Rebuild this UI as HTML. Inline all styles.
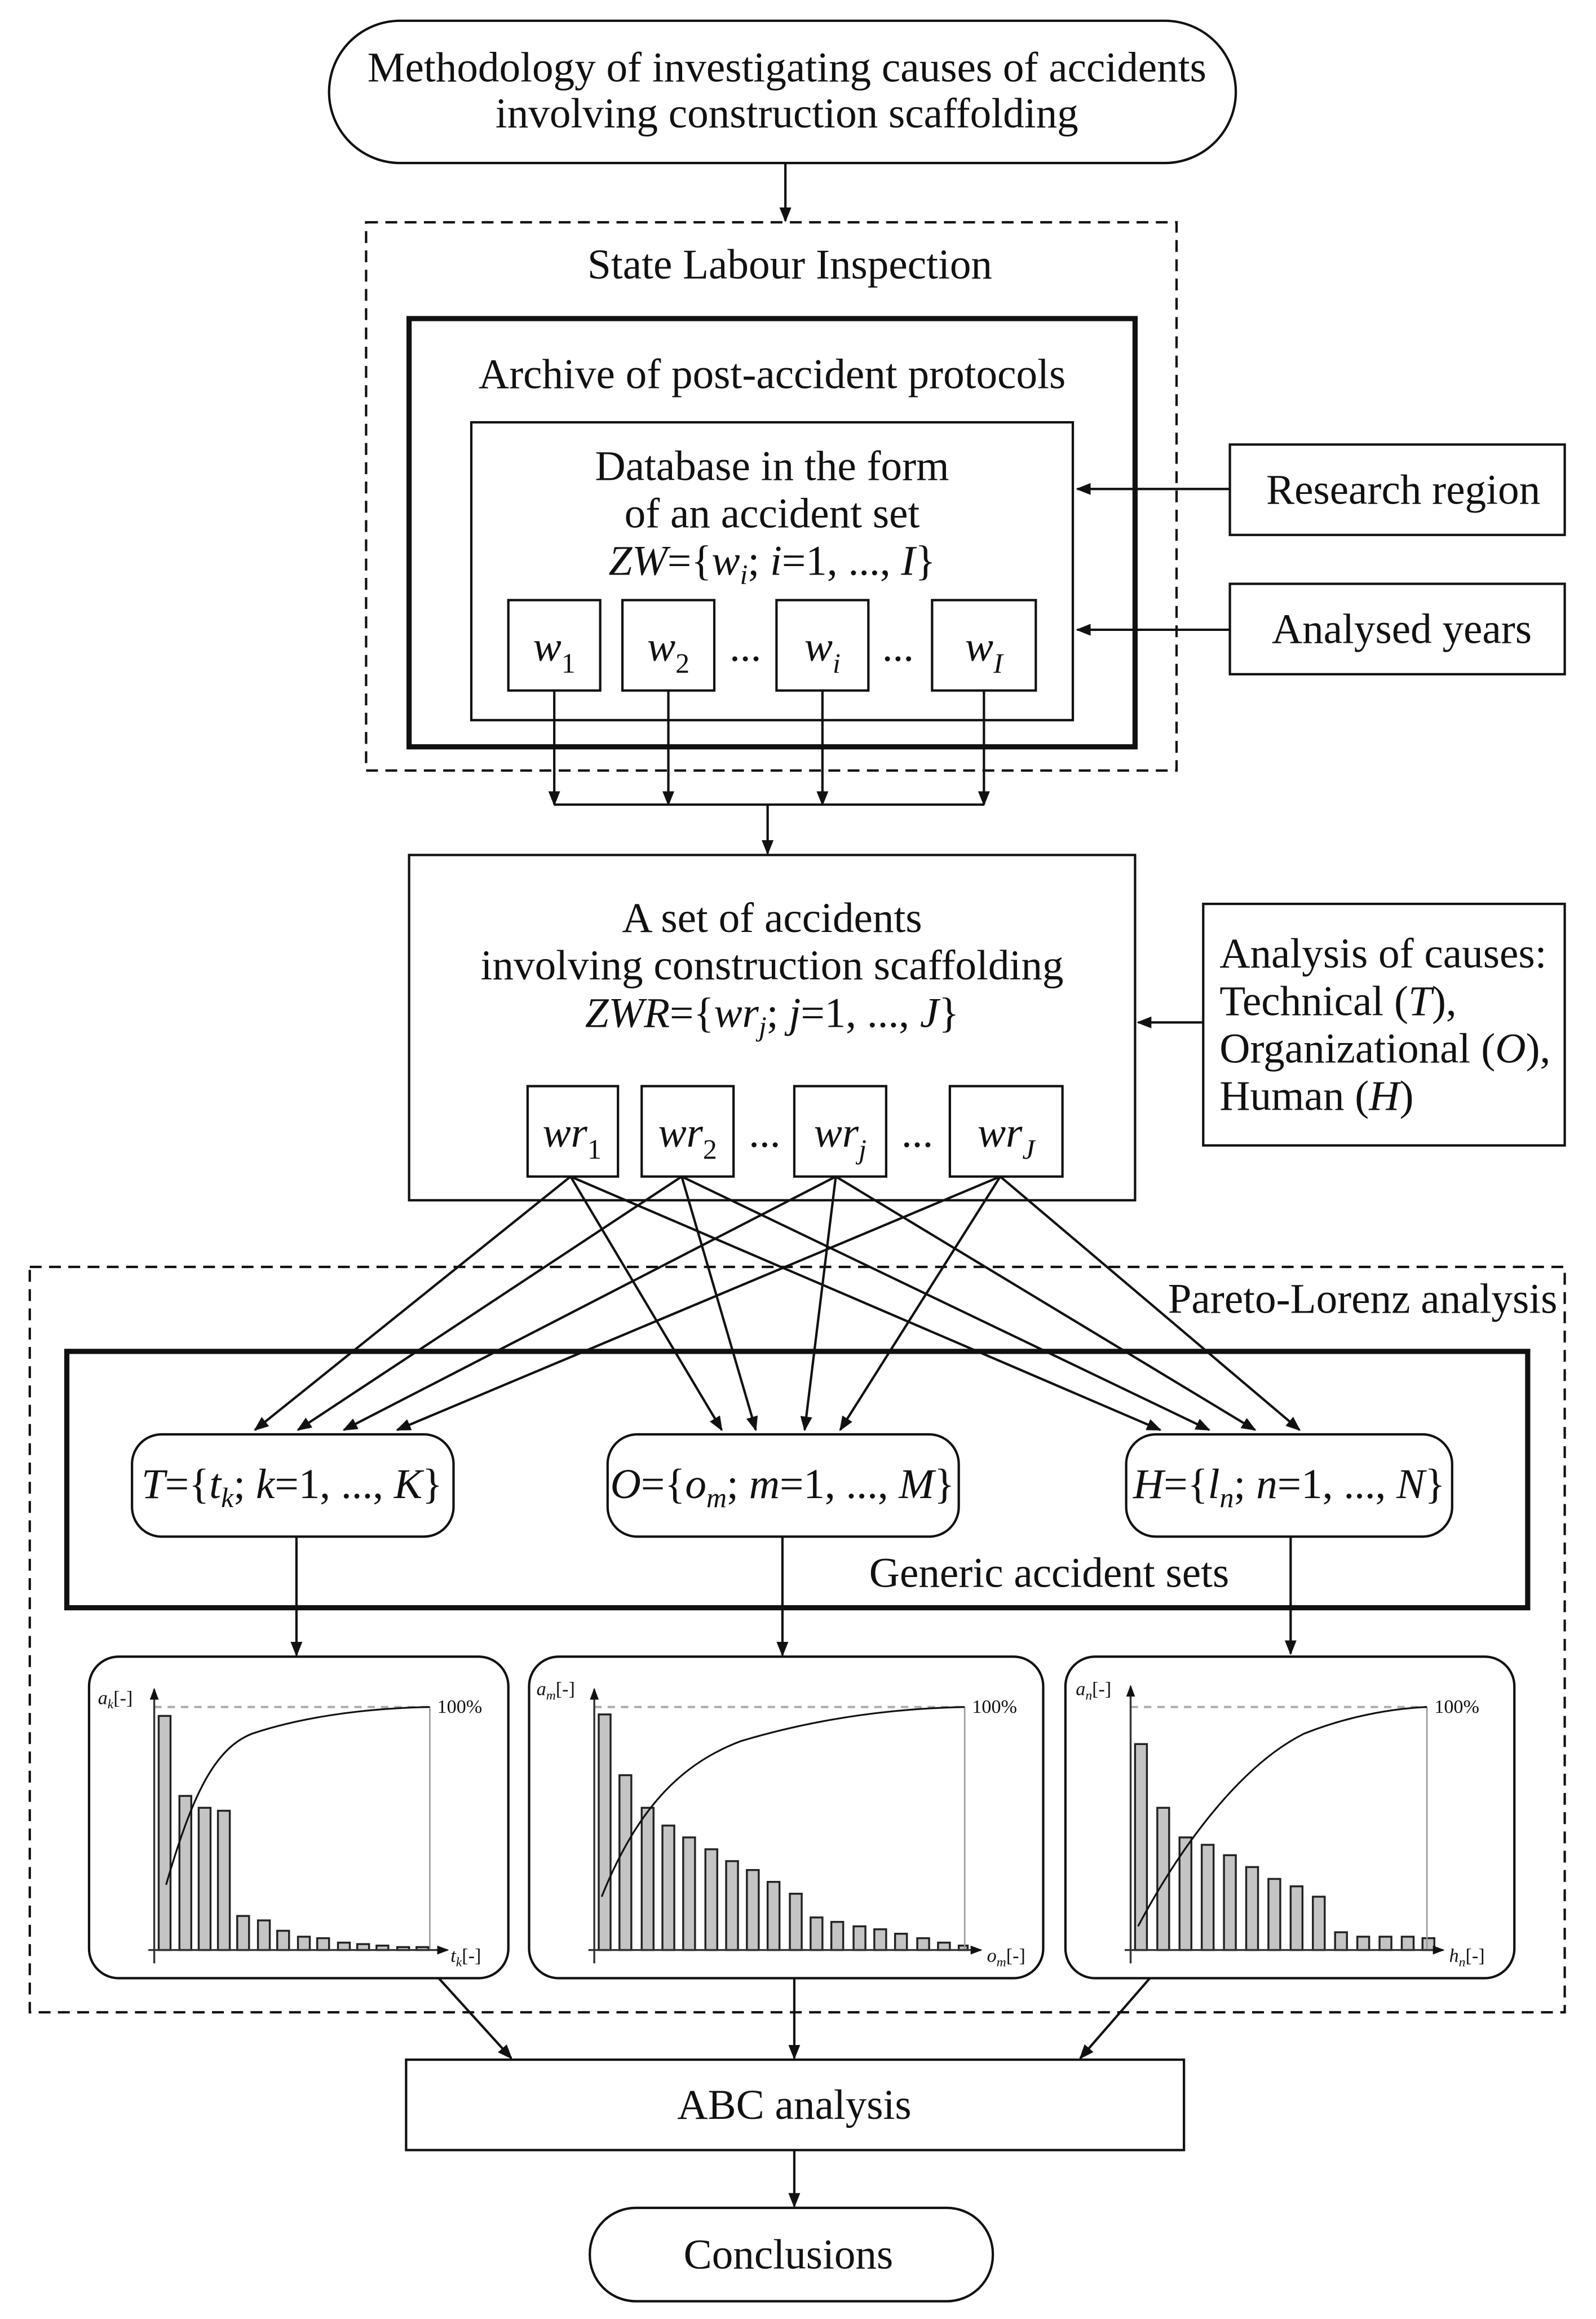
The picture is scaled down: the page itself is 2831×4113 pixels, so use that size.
<!DOCTYPE html>
<html><head><meta charset="utf-8"><style>
html,body{margin:0;padding:0;background:#fff;}
svg{display:block;}
text{font-family:"Liberation Serif",serif;fill:#111;}
</style></head><body>
<svg width="2831" height="4113" viewBox="0 0 1077 1565" xmlns="http://www.w3.org/2000/svg">
<defs>
<marker id="ar" markerWidth="10" markerHeight="8" refX="9" refY="4" orient="auto" markerUnits="userSpaceOnUse">
<path d="M0,0 L10,4 L0,8 Z" fill="#111"/></marker>
<marker id="as" markerWidth="8" markerHeight="6" refX="7" refY="3" orient="auto" markerUnits="userSpaceOnUse">
<path d="M0,0 L8,3 L0,6 Z" fill="#111"/></marker>
</defs>
<g fill="none" stroke="#111" stroke-width="1.6">
<rect x="222" y="14" width="612" height="96" rx="48"/>
<rect x="247" y="150" width="547" height="370" stroke-dasharray="8,5"/>
<rect x="276" y="215" width="490" height="289" stroke-width="3.5"/>
<rect x="318" y="285" width="406" height="201"/>
<rect x="343" y="405" width="62" height="61"/>
<rect x="420" y="405" width="62" height="61"/>
<rect x="524" y="405" width="62" height="61"/>
<rect x="629" y="405" width="70" height="61"/>
<rect x="830" y="300" width="226" height="61"/>
<rect x="830" y="394" width="226" height="61"/>
<rect x="276" y="577" width="490" height="233"/>
<rect x="356" y="733" width="61" height="61"/>
<rect x="433" y="733" width="62" height="61"/>
<rect x="536" y="733" width="62" height="61"/>
<rect x="641" y="733" width="76" height="61"/>
<rect x="812" y="610" width="244" height="163"/>
<rect x="20" y="855" width="1036" height="503" stroke-dasharray="8,5"/>
<rect x="45" y="912" width="986" height="173" stroke-width="3.5"/>
<rect x="89" y="968" width="217" height="69" rx="20"/>
<rect x="410" y="968" width="237" height="69" rx="20"/>
<rect x="760" y="968" width="220" height="69" rx="20"/>
<rect x="60" y="1118" width="283" height="217" rx="20"/>
<rect x="357" y="1118" width="347" height="217" rx="20"/>
<rect x="719" y="1118" width="303" height="217" rx="20"/>
<rect x="274" y="1390" width="525" height="61"/>
<rect x="398" y="1490" width="272" height="63" rx="31"/>
</g>
<g stroke="#111" stroke-width="1.6" fill="none" marker-end="url(#ar)">
<line x1="530" y1="110" x2="530" y2="149"/>
<line x1="830" y1="330" x2="727" y2="330"/>
<line x1="830" y1="425" x2="727" y2="425"/>
<line x1="374" y1="466" x2="374" y2="543"/>
<line x1="451" y1="466" x2="451" y2="543"/>
<line x1="555" y1="466" x2="555" y2="543"/>
<line x1="664" y1="466" x2="664" y2="543"/>
<line x1="518" y1="543" x2="518" y2="576"/>
<line x1="812" y1="690" x2="768" y2="690"/>
<line x1="385" y1="794" x2="172" y2="965"/>
<line x1="460" y1="794" x2="201" y2="965"/>
<line x1="564" y1="794" x2="232" y2="965"/>
<line x1="675" y1="794" x2="268" y2="965"/>
<line x1="385" y1="794" x2="487" y2="965"/>
<line x1="460" y1="794" x2="510" y2="965"/>
<line x1="564" y1="794" x2="543" y2="965"/>
<line x1="675" y1="794" x2="567" y2="965"/>
<line x1="385" y1="794" x2="783" y2="965"/>
<line x1="460" y1="794" x2="816" y2="965"/>
<line x1="564" y1="794" x2="847" y2="965"/>
<line x1="675" y1="794" x2="877" y2="965"/>
<line x1="200" y1="1037" x2="200" y2="1117"/>
<line x1="528" y1="1037" x2="528" y2="1117"/>
<line x1="871" y1="1037" x2="871" y2="1116"/>
<line x1="296" y1="1335" x2="345" y2="1389"/>
<line x1="536" y1="1335" x2="536" y2="1389"/>
<line x1="776" y1="1335" x2="729" y2="1389"/>
<line x1="536" y1="1451" x2="536" y2="1489"/>
</g>
<line x1="374" y1="543" x2="664" y2="543" stroke="#111" stroke-width="1.6"/>
<g font-size="28.6" text-anchor="middle">
<text x="531" y="55">Methodology of investigating causes of accidents</text>
<text x="531" y="86">involving construction scaffolding</text>
<text x="533" y="188">State Labour Inspection</text>
<text x="521" y="262">Archive of post-accident protocols</text>
<text x="521" y="324">Database in the form</text>
<text x="521" y="356">of an accident set</text>
<text x="521" y="388" font-style="italic">ZW<tspan font-style="normal">={</tspan>w<tspan font-size="19" dy="6">i</tspan><tspan dy="-6" font-style="normal">; </tspan>i<tspan font-style="normal">=1, ..., </tspan>I<tspan font-style="normal">}</tspan></text>
<text x="374" y="446" font-style="italic">w<tspan font-size="19" dy="8" font-style="normal">1</tspan></text>
<text x="451" y="446" font-style="italic">w<tspan font-size="19" dy="8" font-style="normal">2</tspan></text>
<text x="555" y="446" font-style="italic">w<tspan font-size="19" dy="8">i</tspan></text>
<text x="664" y="446" font-style="italic">w<tspan font-size="19" dy="8">I</tspan></text>
<text x="503" y="446">...</text>
<text x="606" y="446">...</text>
<text x="947" y="340">Research region</text>
<text x="946" y="434">Analysed years</text>
<text x="521" y="629">A set of accidents</text>
<text x="521" y="661">involving construction scaffolding</text>
<text x="521" y="693" font-style="italic">ZWR<tspan font-style="normal">={</tspan>wr<tspan font-size="19" dy="6">j</tspan><tspan dy="-6" font-style="normal">; </tspan>j<tspan font-style="normal">=1, ..., </tspan>J<tspan font-style="normal">}</tspan></text>
<text x="386" y="774" font-style="italic">wr<tspan font-size="19" dy="8" font-style="normal">1</tspan></text>
<text x="464" y="774" font-style="italic">wr<tspan font-size="19" dy="8" font-style="normal">2</tspan></text>
<text x="567" y="774" font-style="italic">wr<tspan font-size="19" dy="8">j</tspan></text>
<text x="679" y="774" font-style="italic">wr<tspan font-size="19" dy="8">J</tspan></text>
<text x="516" y="774">...</text>
<text x="619" y="774">...</text>
<text x="197" y="1011"><tspan font-style="italic">T</tspan>={<tspan font-style="italic">t</tspan><tspan font-size="19" dy="6" font-style="italic">k</tspan><tspan dy="-6">; </tspan><tspan font-style="italic">k</tspan>=1, ..., <tspan font-style="italic">K</tspan>}</text>
<text x="528" y="1011"><tspan font-style="italic">O</tspan>={<tspan font-style="italic">o</tspan><tspan font-size="19" dy="6" font-style="italic">m</tspan><tspan dy="-6">; </tspan><tspan font-style="italic">m</tspan>=1, ..., <tspan font-style="italic">M</tspan>}</text>
<text x="870" y="1011"><tspan font-style="italic">H</tspan>={<tspan font-style="italic">l</tspan><tspan font-size="19" dy="6" font-style="italic">n</tspan><tspan dy="-6">; </tspan><tspan font-style="italic">n</tspan>=1, ..., <tspan font-style="italic">N</tspan>}</text>
<text x="708" y="1071">Generic accident sets</text>
<text x="536" y="1430">ABC analysis</text>
<text x="532" y="1531">Conclusions</text>
</g>
<g font-size="28.6">
<text x="823" y="653">Analysis of causes:</text>
<text x="823" y="685">Technical (<tspan font-style="italic">T</tspan>),</text>
<text x="823" y="717">Organizational (<tspan font-style="italic">O</tspan>),</text>
<text x="823" y="749">Human (<tspan font-style="italic">H</tspan>)</text>
<text x="1051" y="886" text-anchor="end">Pareto-Lorenz analysis</text>
</g>
<!-- chart 1 -->
<g stroke="#222" stroke-width="1.3" fill="#c4c4c4">
<rect x="107" y="1158" width="8" height="158"/><rect x="121" y="1212" width="8" height="104"/><rect x="134" y="1220" width="8" height="96"/><rect x="147" y="1222" width="8" height="94"/><rect x="160" y="1293" width="8" height="23"/><rect x="174" y="1296" width="8" height="20"/><rect x="187" y="1303" width="8" height="13"/><rect x="201" y="1307" width="8" height="9"/><rect x="214" y="1308" width="8" height="8"/><rect x="228" y="1311" width="8" height="5"/><rect x="241" y="1312" width="8" height="4"/><rect x="254" y="1313" width="8" height="3"/><rect x="268" y="1314" width="8" height="2"/><rect x="281" y="1314" width="8" height="2"/>
</g>
<g fill="none">
<line x1="104" y1="1152" x2="290" y2="1152" stroke="#aaa" stroke-width="1.5" stroke-dasharray="5,4"/>
<line x1="290" y1="1152" x2="290" y2="1316" stroke="#999" stroke-width="1"/>
<line x1="104" y1="1325" x2="104" y2="1140" stroke="#333" stroke-width="1.3" marker-end="url(#as)"/>
<line x1="100" y1="1316" x2="302" y2="1316" stroke="#333" stroke-width="1.3" marker-end="url(#as)"/>
<path d="M112,1272 C130,1210 145,1180 170,1170 C200,1160 240,1153 290,1152" stroke="#111" stroke-width="1.2"/>
</g>
<g font-size="13">
<text x="66" y="1150" font-style="italic">a<tspan font-size="9" dy="3">k</tspan><tspan dy="-3" font-style="normal">[-]</tspan></text>
<text x="295" y="1156">100%</text>
<text x="304" y="1324" font-style="italic">t<tspan font-size="9" dy="3">k</tspan><tspan dy="-3" font-style="normal">[-]</tspan></text>
</g>
<!-- chart 2 -->
<g stroke="#222" stroke-width="1.3" fill="#c4c4c4">
<rect x="404" y="1157" width="8" height="159"/><rect x="418" y="1198" width="8" height="118"/><rect x="433" y="1220" width="8" height="96"/><rect x="447" y="1232" width="8" height="84"/><rect x="461" y="1240" width="8" height="76"/><rect x="476" y="1248" width="8" height="68"/><rect x="490" y="1256" width="8" height="60"/><rect x="504" y="1262" width="8" height="54"/><rect x="518" y="1270" width="8" height="46"/><rect x="533" y="1278" width="8" height="38"/><rect x="547" y="1294" width="8" height="22"/><rect x="561" y="1297" width="8" height="19"/><rect x="576" y="1300" width="8" height="16"/><rect x="590" y="1302" width="8" height="14"/><rect x="604" y="1305" width="8" height="11"/><rect x="619" y="1308" width="8" height="8"/><rect x="633" y="1311" width="8" height="5"/><rect x="647" y="1313" width="6" height="3"/>
</g>
<g fill="none">
<line x1="401" y1="1152" x2="651" y2="1152" stroke="#aaa" stroke-width="1.5" stroke-dasharray="5,4"/>
<line x1="651" y1="1152" x2="651" y2="1316" stroke="#999" stroke-width="1"/>
<line x1="401" y1="1325" x2="401" y2="1140" stroke="#333" stroke-width="1.3" marker-end="url(#as)"/>
<line x1="397" y1="1316" x2="662" y2="1316" stroke="#333" stroke-width="1.3" marker-end="url(#as)"/>
<path d="M406,1280 C430,1220 460,1190 500,1175 C550,1160 600,1153 651,1152" stroke="#111" stroke-width="1.2"/>
</g>
<g font-size="13">
<text x="362" y="1144" font-style="italic">a<tspan font-size="9" dy="3">m</tspan><tspan dy="-3" font-style="normal">[-]</tspan></text>
<text x="656" y="1156">100%</text>
<text x="666" y="1324" font-style="italic">o<tspan font-size="9" dy="3">m</tspan><tspan dy="-3" font-style="normal">[-]</tspan></text>
</g>
<!-- chart 3 -->
<g stroke="#222" stroke-width="1.3" fill="#c4c4c4">
<rect x="766" y="1177" width="8" height="139"/><rect x="781" y="1220" width="8" height="96"/><rect x="796" y="1240" width="8" height="76"/><rect x="811" y="1245" width="8" height="71"/><rect x="826" y="1252" width="8" height="64"/><rect x="841" y="1260" width="8" height="56"/><rect x="856" y="1268" width="8" height="48"/><rect x="871" y="1273" width="8" height="43"/><rect x="886" y="1280" width="8" height="36"/><rect x="901" y="1304" width="8" height="12"/><rect x="916" y="1307" width="8" height="9"/><rect x="931" y="1307" width="8" height="9"/><rect x="946" y="1307" width="8" height="9"/><rect x="960" y="1308" width="8" height="8"/>
</g>
<g fill="none">
<line x1="763" y1="1152" x2="963" y2="1152" stroke="#aaa" stroke-width="1.5" stroke-dasharray="5,4"/>
<line x1="963" y1="1152" x2="963" y2="1316" stroke="#999" stroke-width="1"/>
<line x1="763" y1="1325" x2="763" y2="1138" stroke="#333" stroke-width="1.3" marker-end="url(#as)"/>
<line x1="759" y1="1316" x2="974" y2="1316" stroke="#333" stroke-width="1.3" marker-end="url(#as)"/>
<path d="M768,1300 C800,1240 840,1190 880,1170 C910,1158 940,1153 963,1152" stroke="#111" stroke-width="1.2"/>
</g>
<g font-size="13">
<text x="726" y="1144" font-style="italic">a<tspan font-size="9" dy="3">n</tspan><tspan dy="-3" font-style="normal">[-]</tspan></text>
<text x="968" y="1156">100%</text>
<text x="978" y="1324" font-style="italic">h<tspan font-size="9" dy="3">n</tspan><tspan dy="-3" font-style="normal">[-]</tspan></text>
</g>
</svg>
</body></html>
